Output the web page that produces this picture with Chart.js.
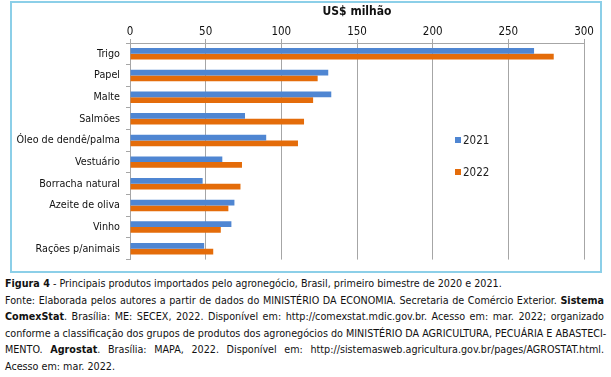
<!DOCTYPE html>
<html>
<head>
<meta charset="utf-8">
<script src="https://cdn.jsdelivr.net/npm/chart.js@4"></script>
<style>
  body { margin: 0; background: #fff; font-family: "DejaVu Sans Condensed", "DejaVu Sans", sans-serif; }
  #wrap { position: relative; width: 611px; height: 377px; }
  #frame { position: absolute; left: 10px; top: 1px; width: 588px; height: 268px; border: 2px solid #8ccfe8; }
  #chart { position: absolute; left: 0; top: 0; }
  .leg { position: absolute; font-size: 11.5px; color: #222; line-height: 14px; }
  .leg span { display: inline-block; width: 6px; height: 6px; margin-right: 2px; vertical-align: 1px; }
  #caption { position: absolute; left: 5px; top: 276px; width: 599px; font-size: 10.7px; color: #111; line-height: 16.5px; }
  #caption div { white-space: nowrap; text-align: justify; text-align-last: justify; }
  #caption div.last { text-align-last: left; }
</style>
</head>
<body>
<div id="wrap">
  <div id="frame"></div>
  <canvas id="chart" width="611" height="272"></canvas>
  <div id="legend"></div>
  <div id="caption">
    <div class="last"><b>Figura 4</b> - Principais produtos importados pelo agronegócio, Brasil, primeiro bimestre de 2020 e 2021.</div>
    <div>Fonte: Elaborada pelos autores a partir de dados do MINISTÉRIO DA ECONOMIA. Secretaria de Comércio Exterior. <b>Sistema</b></div>
    <div><b>ComexStat</b>. Brasília: ME: SECEX, 2022. Disponível em: http://comexstat.mdic.gov.br. Acesso em: mar. 2022; organizado</div>
    <div>conforme a classificação dos grupos de produtos dos agronegócios do MINISTÉRIO DA AGRICULTURA, PECUÁRIA E ABASTECI-</div>
    <div>MENTO. <b>Agrostat</b>. Brasília: MAPA, 2022. Disponível em: http://sistemasweb.agricultura.gov.br/pages/AGROSTAT.html.</div>
    <div class="last">Acesso em: mar. 2022.</div>
  </div>
</div>
<script>
const categories = ["Trigo", "Papel", "Malte", "Salmões", "Óleo de dendê/palma", "Vestuário", "Borracha natural", "Azeite de oliva", "Vinho", "Rações p/animais"];
const values2021 = [267, 131, 133, 76, 90, 61, 48, 69, 67, 49];
const values2022 = [280, 124, 121, 115, 111, 74, 73, 65, 60, 55];
const seriesNames = ["2021", "2022"];
const seriesColors = ["#4f86d2", "#e46c0a"];
const xTicks = [0, 50, 100, 150, 200, 250, 300];

const font = "'DejaVu Sans Condensed', 'DejaVu Sans', sans-serif";
const gridColor = "#a6a6a6";

const ctx = document.getElementById("chart");
const chart = new Chart(ctx.getContext("2d"), {
  type: "bar",
  data: {
    labels: categories,
    datasets: [
      { label: seriesNames[0], data: values2021, backgroundColor: seriesColors[0] },
      { label: seriesNames[1], data: values2022, backgroundColor: seriesColors[1] }
    ]
  },
  options: {
    indexAxis: "y",
    responsive: false,
    animation: false,
    devicePixelRatio: 1,
    categoryPercentage: 0.53,
    barPercentage: 1.0,
    layout: { padding: { left: 0, right: 27, top: 0, bottom: 5 } },
    plugins: { legend: { display: false }, tooltip: { enabled: false } },
    scales: {
      x: {
        position: "top",
        min: xTicks[0], max: xTicks[xTicks.length - 1],
        afterBuildTicks: s => { s.ticks = xTicks.map(v => ({ value: v })); },
        afterFit: s => { s.height = 43; },
        title: { display: true, text: "US$ milhão", color: "#111", font: { family: font, size: 12, weight: "bold" }, padding: { top: 5, bottom: 0 } },
        ticks: { color: "#111", font: { family: font, size: 11.5 }, padding: 0 },
        grid: { color: gridColor, tickLength: 4 },
        border: { color: gridColor }
      },
      y: {
        afterFit: s => { s.width = 130; },
        ticks: { color: "#111", font: { family: font, size: 10.7 }, padding: 6 },
        grid: { color: gridColor, drawOnChartArea: false, tickLength: 4 },
        border: { color: gridColor }
      }
    }
  }
});

// legenda à direita, dentro da área do gráfico
const legend = document.getElementById("legend");
const legendTops = [133, 165];
seriesNames.forEach((name, i) => {
  const el = document.createElement("div");
  el.className = "leg";
  el.style.left = "455px";
  el.style.top = legendTops[i] + "px";
  el.innerHTML = `<span style="background:${seriesColors[i]}"></span>${name}`;
  legend.appendChild(el);
});
</script>
</body>
</html>
